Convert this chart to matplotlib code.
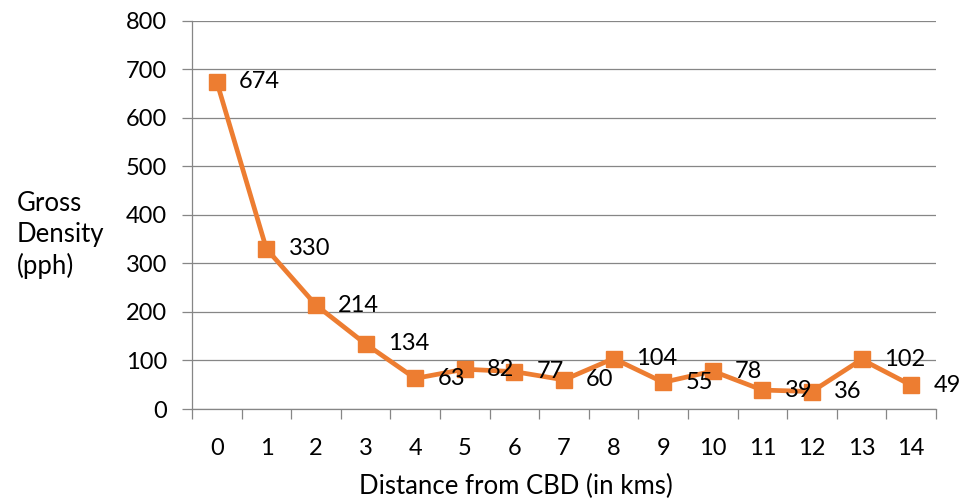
import matplotlib
matplotlib.use("Agg")
import matplotlib.pyplot as plt
from matplotlib.ticker import FixedLocator

categories = [str(i) for i in range(15)]
values = [674, 330, 214, 134, 63, 82, 77, 60, 104, 55, 78, 39, 36, 102, 49]
y_ticks = [0, 100, 200, 300, 400, 500, 600, 700, 800]

plt.rcParams['font.family'] = ['Lato', 'DejaVu Sans']

fig = plt.figure(figsize=(9.61, 5.01), dpi=100)
ax = fig.add_axes([192/961, 1 - 409/501, (936-192)/961, (409-20.7)/501])

x = list(range(len(categories)))
color = '#ED7D31'
ax.plot(x, values, color=color, linewidth=3.4, marker='s', markersize=11.5,
        markerfacecolor=color, markeredgecolor=color, zorder=3)

for xi, v in zip(x, values):
    ax.annotate(str(v), (xi, v), xytext=(16, 0), textcoords='offset points',
                ha='left', va='center', fontsize=17, color='black', zorder=4)

ax.set_xlim(-0.5, 14.5)
ax.set_ylim(0, 800)
ax.set_yticks(y_ticks)
ax.set_yticklabels([str(t) for t in y_ticks])
ax.set_xticks(x)
ax.set_xticklabels(categories)
ax.xaxis.set_minor_locator(FixedLocator([i - 0.5 for i in range(16)]))

ax.grid(axis='y', color='#868686', linewidth=0.9, zorder=0)
ax.set_axisbelow(True)

for s in ['top', 'right']:
    ax.spines[s].set_visible(False)
for s in ['left', 'bottom']:
    ax.spines[s].set_color('#868686')
    ax.spines[s].set_linewidth(0.9)

ax.tick_params(axis='x', which='major', length=0, pad=21, labelsize=17)
ax.tick_params(axis='x', which='minor', length=7, color='#868686', width=0.9, direction='out')
ax.tick_params(axis='y', length=7, color='#868686', width=0.9, pad=11, labelsize=17)

fig.text(516/961, 1 - 486/501, 'Distance from CBD (in kms)', ha='center', va='center',
         fontsize=18.5)
fig.text(17/961, 1 - 235/501, 'Gross\nDensity\n(pph)', ha='left', va='center',
         fontsize=18.5, linespacing=1.3)

fig.savefig('out.png', dpi=100)
